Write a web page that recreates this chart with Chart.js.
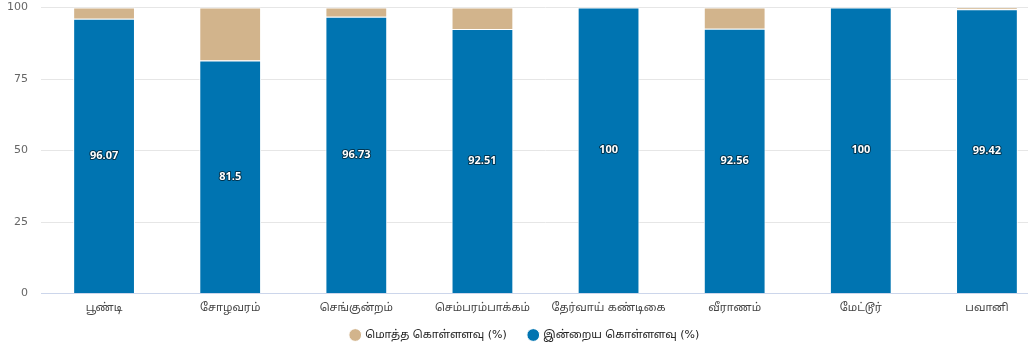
<!DOCTYPE html>
<html>
<head>
<meta charset="utf-8">
<script src="https://cdn.jsdelivr.net/npm/chart.js@4/dist/chart.umd.min.js"></script>
<style>
  html, body { margin: 0; padding: 0; background: #fff; overflow: hidden; }
  #wrap { width: 1060px; height: 358px; position: relative; }
</style>
</head>
<body>
<div id="wrap"><canvas id="c"></canvas></div>
<script>
const categories = ['பூண்டி', 'சோழவரம்', 'செங்குன்றம்', 'செம்பரம்பாக்கம்', 'தேர்வாய் கண்டிகை', 'வீராணம்', 'மேட்டூர்', 'பவானி'];
const currentValues = [96.07, 81.5, 96.73, 92.51, 100, 92.56, 100, 99.42];
const totalValues = [3.93, 18.5, 3.27, 7.49, 0, 7.44, 0, 0.58];
const seriesNames = ['மொத்த கொள்ளளவு (%)', 'இன்றைய கொள்ளளவு (%)'];
const yTicks = [0, 25, 50, 75, 100];

const FONT = '"DejaVu Sans", "Noto Sans", "Noto Sans Tamil", sans-serif';

const labelPlugin = {
  id: 'barLabels',
  afterLayout(chart) {
    if (chart.legend) {
      chart.legend.top -= 7.5;
      chart.legend.bottom -= 7.5;
    }
  },
  afterDatasetsDraw(chart) {
    const ctx = chart.ctx;
    const meta = chart.getDatasetMeta(0);
    ctx.save();
    ctx.font = 'bold 11px "Open Sans", "DejaVu Sans", sans-serif';
    ctx.textAlign = 'center';
    ctx.textBaseline = 'middle';
    ctx.lineJoin = 'round';
    meta.data.forEach((el, i) => {
      const p = el.getCenterPoint();
      const txt = String(currentValues[i]);
      ctx.strokeStyle = 'rgba(0,0,0,0.55)';
      ctx.lineWidth = 2;
      ctx.strokeText(txt, p.x, p.y);
      ctx.fillStyle = '#ffffff';
      ctx.fillText(txt, p.x, p.y);
    });
    ctx.restore();
  }
};

new Chart(document.getElementById('c'), {
  type: 'bar',
  data: {
    labels: categories,
    datasets: [
      {
        label: seriesNames[1],
        data: currentValues,
        backgroundColor: '#0074B1',
        borderColor: '#ffffff',
        borderWidth: 1,
        barPercentage: 0.49,
        categoryPercentage: 1
      },
      {
        label: seriesNames[0],
        data: totalValues,
        backgroundColor: '#D2B48C',
        borderColor: '#ffffff',
        borderWidth: 1,
        barPercentage: 0.49,
        categoryPercentage: 1
      }
    ]
  },
  options: {
    responsive: true,
    maintainAspectRatio: false,
    animation: false,
    events: [],
    layout: { padding: { top: 7.5, bottom: 0, left: 0, right: 10 } },
    scales: {
      x: {
        stacked: true,
        grid: { display: false, drawTicks: false },
        border: { display: true, color: '#ccd6eb', width: 1 },
        ticks: { color: '#444', font: { family: FONT, size: 11 }, padding: 8, maxRotation: 0, autoSkip: false },
        afterFit(s) { s.height = 21.5; }
      },
      y: {
        stacked: true,
        min: 0,
        max: 100,
        afterBuildTicks(s) { s.ticks = yTicks.map(v => ({ value: v })); },
        grid: { color: '#e6e6e6', drawTicks: false },
        border: { display: false },
        ticks: { color: '#666', font: { family: FONT, size: 11 }, padding: 13 },
        afterFit(s) { s.width = 41; s.paddingTop = 0; s.paddingBottom = 0; }
      }
    },
    plugins: {
      legend: {
        position: 'bottom',
        labels: {
          usePointStyle: true,
          pointStyle: 'circle',
          boxWidth: 9,
          boxHeight: 9,
          padding: 22,
          color: '#222',
          font: { family: FONT, size: 11 },
          sort: (a, b) => b.datasetIndex - a.datasetIndex
        }
      },
      tooltip: { enabled: false }
    }
  },
  plugins: [labelPlugin]
});
</script>
</body>
</html>
